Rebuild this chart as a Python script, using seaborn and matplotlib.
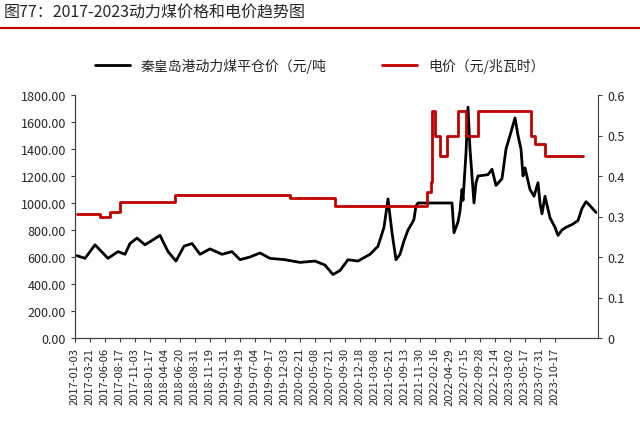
import matplotlib
matplotlib.use('Agg')
import matplotlib.pyplot as plt
import seaborn as sns
import pandas as pd

sns.set_style('white')
plt.rcParams['font.family'] = ['Noto Sans CJK SC', 'DejaVu Sans']

# 刻度标签（每11个数据点一个）
tick_labels = ['2017-01-03', '2017-03-21', '2017-06-06', '2017-08-17', '2017-11-03', '2018-01-17',
               '2018-04-04', '2018-06-20', '2018-08-31', '2018-11-19', '2019-01-31', '2019-04-19',
               '2019-07-04', '2019-09-17', '2019-12-03', '2020-02-21', '2020-05-08', '2020-07-21',
               '2020-09-30', '2020-12-18', '2021-03-08', '2021-05-21', '2021-09-13', '2021-11-30',
               '2022-02-16', '2022-04-29', '2022-07-15', '2022-09-28', '2022-12-14', '2023-03-02',
               '2023-05-17', '2023-07-31', '2023-10-17']

# 秦皇岛港动力煤平仓价（像素位置 -> 数值）
coal_px = [77, 85, 95, 108, 118, 125, 130, 137, 145, 160, 168, 176, 184, 192, 200, 210, 222, 232,
           240, 250, 260, 270, 285, 300, 315, 325, 333, 340, 348, 358, 370, 378, 384, 388, 392, 396,
           400, 404, 408, 412, 414, 416, 418, 452, 454, 458, 460, 462, 463, 466, 468, 470, 472, 474,
           476, 478, 488, 492, 496, 502, 506, 510, 515, 518, 521, 523, 525, 530, 534, 538, 540, 542,
           545, 550, 555, 558, 562, 566, 572, 578, 582, 586, 590, 596]
coal = [610, 590, 690, 590, 640, 620, 700, 740, 690, 760, 640, 570, 680, 700, 620, 660, 620, 640,
        580, 600, 630, 590, 580, 560, 570, 540, 470, 500, 580, 570, 620, 680, 820, 1030, 780, 580,
        620, 720, 800, 850, 880, 980, 1000, 1000, 780, 860, 940, 1100, 1020, 1370, 1710, 1400, 1200, 1000,
        1150, 1200, 1210, 1250, 1130, 1180, 1400, 1500, 1630, 1500, 1400, 1200, 1260, 1100, 1050, 1150, 1000, 920,
        1050, 890, 820, 760, 800, 820, 840, 870, 960, 1010, 980, 930]

# 电价（元/兆瓦时，右轴）
power_px = [77, 100, 110, 120, 130, 175, 290, 335, 425, 427, 431, 432, 435, 440, 447, 458, 466, 478,
            531, 535, 545, 583]
power = [0.305, 0.30, 0.31, 0.335, 0.335, 0.353, 0.345, 0.325, 0.325, 0.36, 0.385, 0.56, 0.50, 0.45,
         0.50, 0.56, 0.50, 0.56, 0.50, 0.48, 0.45, 0.45]

step = 11 / 15
coal_df = pd.DataFrame({'x': [(p - 75) * step for p in coal_px], 'v': coal})
power_df = pd.DataFrame({'x': [(p - 75) * step for p in power_px], 'v': power})

fig = plt.figure(figsize=(6.4, 4.31), dpi=100)
ax = fig.add_axes([75 / 640, 1 - 339 / 431, 523 / 640, 243 / 431])
ax2 = ax.twinx()

sns.lineplot(data=coal_df, x='x', y='v', ax=ax, color='black', lw=2, label='秦皇岛港动力煤平仓价（元/吨')
sns.lineplot(data=power_df, x='x', y='v', ax=ax2, color='#C00000', lw=2, drawstyle='steps-post',
             label='电价（元/兆瓦时）')

ax.set_xlim(0, 523 * step)
ax.set_ylim(0, 1800)
ax2.set_ylim(0, 0.6)
ax.set_yticks(range(0, 1801, 200))
ax.set_yticklabels(['%.2f' % v for v in range(0, 1801, 200)], fontsize=9)
ax2.set_yticks([0, 0.1, 0.2, 0.3, 0.4, 0.5, 0.6])
ax2.set_yticklabels(['0', '0.1', '0.2', '0.3', '0.4', '0.5', '0.6'], fontsize=9)
ax.set_xticks([i * 11 for i in range(len(tick_labels))])
ax.set_xticklabels(tick_labels, rotation=90, fontsize=8)
ax.set_xlabel('')
ax.set_ylabel('')
ax2.set_ylabel('')
for a in (ax, ax2):
    a.spines['top'].set_visible(False)
    a.tick_params(length=3, color='#404040', direction='out')
ax.spines['right'].set_visible(False)
ax2.spines['left'].set_color('#404040')
ax2.spines['right'].set_color('#404040')
ax2.spines['bottom'].set_color('#404040')
ax.tick_params(axis='both', which='both', bottom=True, left=True)
ax2.tick_params(axis='y', right=True)

ax.get_legend().remove()
ax2.get_legend().remove()
h1, l1 = ax.get_legend_handles_labels()
h2, l2 = ax2.get_legend_handles_labels()
fig.legend(h1 + h2, l1 + l2, ncol=2, loc='center', bbox_to_anchor=(0.5, 1 - 66 / 431), frameon=False,
           fontsize=10, columnspacing=4, handlelength=2.5)

fig.text(0.005, 1 - 13 / 431, '图77：2017-2023动力煤价格和电价趋势图', fontsize=11.5, va='center',
         fontweight='medium')
fig.add_artist(plt.Line2D([0, 1], [1 - 29 / 431] * 2, color='#C00000', lw=1.5))

fig.savefig('out.png', dpi=100)
